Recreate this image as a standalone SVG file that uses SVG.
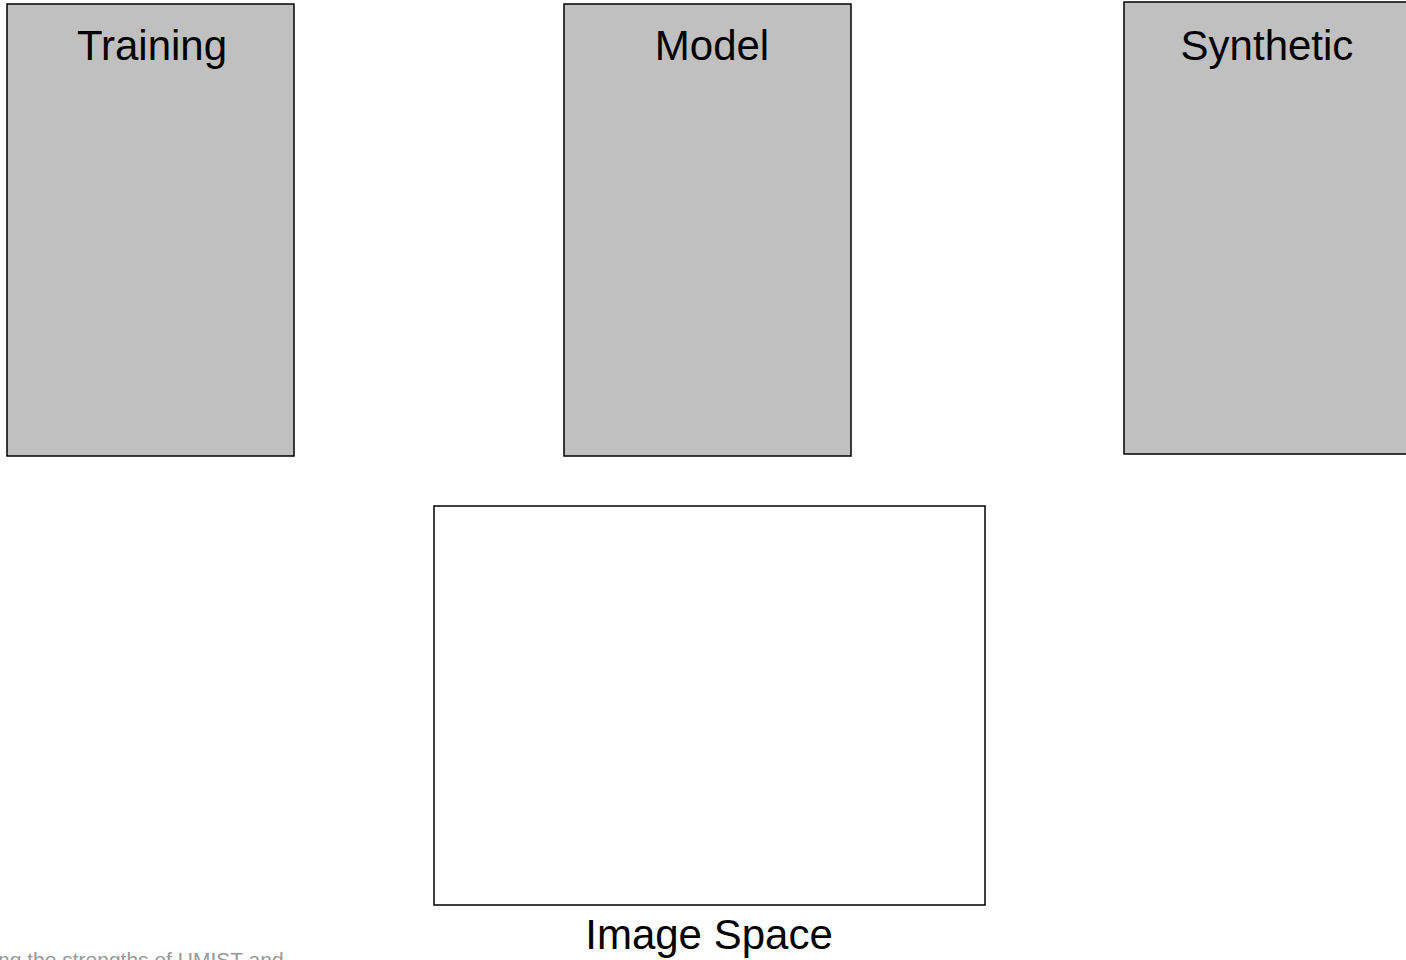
<svg xmlns="http://www.w3.org/2000/svg" width="1406" height="960" viewBox="0 0 1406 960">
<style>
.panel{fill:#c0c0c0;stroke:#000;stroke-width:1.5}
.space{fill:#fff;stroke:#000;stroke-width:1.5}
.title{font-family:"Liberation Sans",Arial,sans-serif;font-size:42px;fill:#000;text-anchor:middle}
.note{font-family:"Liberation Sans",Arial,sans-serif;font-size:21px;fill:#999}
</style>
<rect width="1406" height="960" fill="#fff"/>
<g id="training">
<rect class="panel" x="7" y="4" width="287" height="452"/>
<text class="title" x="152" y="60">Training</text>
</g>
<g id="model">
<rect class="panel" x="564" y="4" width="287" height="452"/>
<text class="title" x="712" y="60">Model</text>
</g>
<g id="synthetic">
<rect class="panel" x="1124" y="2" width="287" height="452"/>
<text class="title" x="1267" y="60">Synthetic</text>
</g>
<g id="image-space">
<rect class="space" x="434" y="506" width="551" height="399"/>
<text class="title" x="709" y="949">Image Space</text>
</g>
<g id="connectors"></g>
<text class="note" x="-2" y="967">ng the strengths of UMIST and</text>
</svg>
